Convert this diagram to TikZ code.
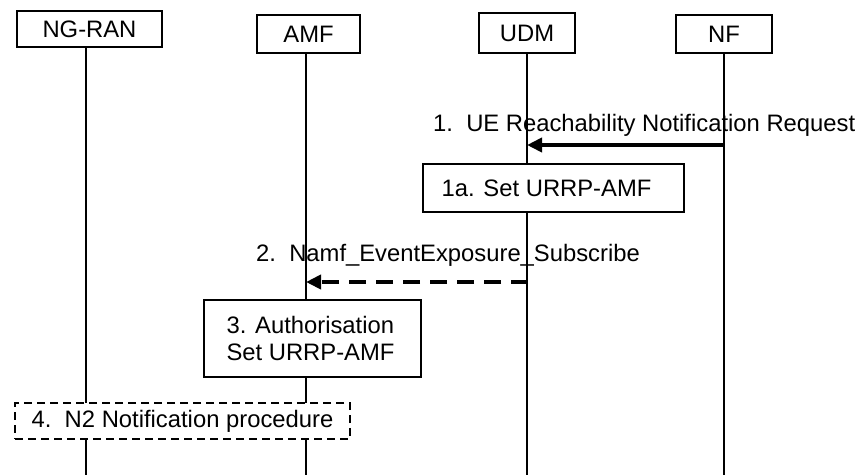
\documentclass[tikz,border=0pt]{standalone}
\usepackage{fontspec}
\setmainfont{Liberation Sans}
\usetikzlibrary{arrows.meta}
\begin{document}
\begin{tikzpicture}[x=1pt,y=-1pt,
  every node/.style={font=\fontsize{23.8}{27}\selectfont},
  entity/.style={draw,line width=2.6pt,fill=white,inner sep=0pt},
  proc/.style={draw,line width=2pt,fill=white,inner sep=0pt},
  dproc/.style={draw,line width=1.8pt,fill=white,inner sep=0pt,dash pattern=on 8pt off 5pt},
  life/.style={line width=1.2pt},
  msg/.style={line width=4pt,-{Triangle[length=15pt,width=14pt]}},
  dmsg/.style={msg,dash pattern=on 17pt off 10pt},
  lbl/.style={inner sep=0pt,anchor=base west}]
\useasboundingbox (0,0) rectangle (858,475);
% lifeline bottoms
\coordinate (ngranB) at (86,475);
\coordinate (amfB) at (306,475);
\coordinate (udmB) at (527,475);
\coordinate (nfB) at (724,475);
% entities
\node[entity,minimum width=145pt,minimum height=36pt] (ngran) at (89.5,29) {NG-RAN};
\node[entity,minimum width=103pt,minimum height=38pt] (amf) at (308.5,34) {AMF};
\node[entity,minimum width=96pt,minimum height=40pt] (udm) at (527,33) {UDM};
\node[entity,minimum width=96pt,minimum height=38pt] (nf) at (724,34) {NF};
% lifelines
\draw[life] (ngran.south -| ngranB) -- (ngranB);
\draw[life] (amf.south -| amfB) -- (amfB);
\draw[life] (udm.south -| udmB) -- (udmB);
\draw[life] (nf.south -| nfB) -- (nfB);
% step 1
\coordinate (nf1) at (724,145);
\coordinate (udm1) at (527,145);
\draw[msg] (nf1) -- (udm1);
\node[lbl] (l1) at (433,131) {1.\ \ UE Reachability Notification Request};
% step 1a
\node[proc,minimum width=261pt,minimum height=48pt] (s1a) at (553.5,188) {1a. Set URRP-AMF\hspace*{14pt}};
% step 2
\coordinate (udm2) at (528,282);
\coordinate (amf2) at (306,282);
\draw[dmsg] (udm2) -- (amf2);
\node[lbl] (l2) at (256,261) {2.\ \ Namf\_EventExposure\_Subscribe};
% step 3
\node[proc,minimum width=217pt,minimum height=77pt,align=left] (s3) at (312.5,338.5) {3. Authorisation\\Set URRP-AMF\hspace*{4pt}};
% step 4
\node[dproc,minimum width=335pt,minimum height=36pt] (s4) at (182.5,421) {4.\ \ N2 Notification procedure};
\end{tikzpicture}
\end{document}
